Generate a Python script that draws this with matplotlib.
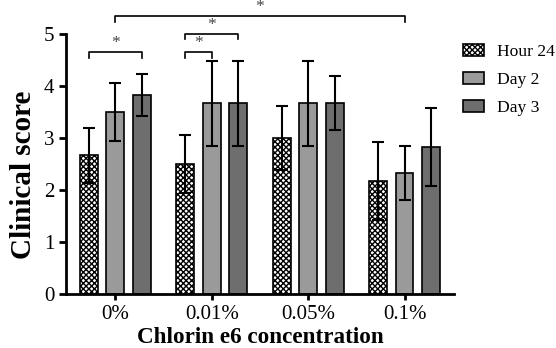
import matplotlib
matplotlib.use('Agg')
from matplotlib import pyplot as plt
import numpy as np

plt.rcParams['font.family'] = ['Liberation Serif', 'DejaVu Serif']
plt.rcParams['hatch.linewidth'] = 1.0

groups = ['0%', '0.01%', '0.05%', '0.1%']
series = ['Hour 24', 'Day 2', 'Day 3']
hour24 = [2.67, 2.50, 3.00, 2.17]
day2 = [3.50, 3.67, 3.67, 2.33]
day3 = [3.83, 3.67, 3.67, 2.83]
hour24_err = [0.53, 0.55, 0.62, 0.75]
day2_err = [0.55, 0.82, 0.82, 0.52]
day3_err = [0.40, 0.82, 0.52, 0.75]

values = [hour24, day2, day3]
errors = [hour24_err, day2_err, day3_err]
faces = ['white', '#9a9a9a', '#6e6e6e']
hatches = ['xxxxxx', None, None]

fig = plt.figure(figsize=(5.56, 3.48), dpi=100)
ax = fig.add_axes([0.119, 0.155, 0.697, 0.747])

x = np.arange(len(groups))
w = 0.185
off = 0.275
for i in range(3):
    xi = x + (i - 1) * off
    ax.bar(xi, values[i], w, color=faces[i], edgecolor='black', linewidth=1.2,
           hatch=hatches[i], label=series[i], zorder=2)
    ax.errorbar(xi, values[i], yerr=errors[i], fmt='none', ecolor='black',
                elinewidth=1.5, capsize=4, capthick=1.5, zorder=3)

ax.set_xlim(-0.51, 3.51)
ax.set_ylim(0, 5)
ax.set_yticks([0, 1, 2, 3, 4, 5])
ax.set_xticks(x)
ax.set_xticklabels(groups)
ax.tick_params(axis='both', labelsize=15, width=2, length=5, direction='out')
ax.tick_params(axis='x', length=4, pad=4)
for s in ['top', 'right']:
    ax.spines[s].set_visible(False)
for s in ['left', 'bottom']:
    ax.spines[s].set_linewidth(2)

ax.set_ylabel('Clinical score', fontsize=21, fontweight='bold')
ax.yaxis.set_label_coords(-0.074, 0.458)
ax.set_xlabel('Chlorin e6 concentration', fontsize=16.7, fontweight='bold', labelpad=2)


def bracket(x1, x2, y, h, text):
    ax.plot([x1, x1, x2, x2], [y - h, y, y, y - h], color='black', lw=1.2,
            clip_on=False, zorder=4)
    ax.text((x1 + x2) / 2, y + 0.02, text, ha='center', va='bottom',
            fontsize=12.5, color='#444444', clip_on=False)


bracket(x[0] - off, x[0] + off, 4.65, 0.1, '*')
bracket(x[1] - off, x[1], 4.65, 0.1, '*')
bracket(x[1] - off, x[1] + off, 5.0, 0.1, '*')
bracket(x[0], x[3], 5.35, 0.12, '*')

leg = ax.legend(loc='upper left', bbox_to_anchor=(1.023, 0.962), frameon=False,
                fontsize=12.6, handlelength=1.2, handleheight=0.65,
                labelspacing=0.7, handletextpad=0.75, borderpad=0,
                borderaxespad=0)

fig.savefig('out.png', dpi=100)
